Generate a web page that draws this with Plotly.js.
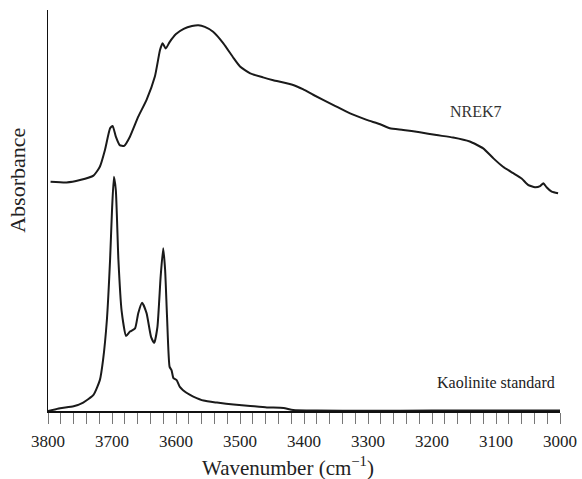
<!DOCTYPE html>
<html>
<head>
<meta charset="utf-8">
<script src="https://cdn.plot.ly/plotly-3.0.1.min.js"></script>
<style>html,body{margin:0;padding:0;background:#fff}#chart{width:582px;height:479px}</style>
</head>
<body>
<div id="chart"></div>
<script>
// Kaolinite standard spectrum (wavenumber, relative absorbance)
var kaolWn = [3800, 3781, 3760, 3745, 3729, 3719, 3714, 3708, 3703, 3700, 3697, 3694, 3690, 3685, 3678, 3672, 3664, 3659, 3653, 3646, 3639, 3634, 3629, 3624, 3620, 3617, 3614, 3610, 3607, 3604, 3599, 3594, 3589, 3578, 3573, 3557, 3536, 3510, 3484, 3458, 3432, 3417, 3380, 3300, 3200, 3100, 3000];
var kaolAbs = [0, 0.7, 1.2, 2.1, 4, 7.7, 12.7, 22.7, 37.7, 50, 58.4, 55, 37.7, 25, 18.7, 19.8, 20.6, 24.4, 27, 24.4, 18.5, 17, 21, 33.5, 40.6, 35.2, 23.5, 11, 10.2, 8.2, 7.7, 6, 5.2, 4, 3.6, 2.6, 2.1, 1.6, 1.25, 0.9, 0.75, 0.25, 0.1, 0.05, 0.1, 0.1, 0.1];

// NREK7 spectrum
var nrekWn = [3796, 3771, 3750, 3729, 3719, 3711, 3703, 3699, 3694, 3688, 3681, 3672, 3659, 3646, 3633, 3625, 3621, 3616, 3610, 3600, 3588, 3575, 3565, 3555, 3542, 3526, 3510, 3500, 3484, 3464, 3448, 3417, 3401, 3385, 3354, 3328, 3302, 3281, 3266, 3245, 3219, 3193, 3167, 3141, 3120, 3104, 3089, 3073, 3060, 3050, 3039, 3031, 3026, 3021, 3013, 3003];
var nrekAbs = [57.2, 57, 57.6, 58.7, 60.9, 65.1, 70.5, 71.1, 68.4, 66.3, 66.1, 68.4, 73.4, 77.6, 83.4, 90, 91.7, 90.4, 92, 94, 95.3, 96, 96.2, 95.8, 94.6, 91.7, 88, 85.9, 84.2, 83.2, 82.5, 81.3, 80.2, 78.8, 76.3, 74.2, 72.6, 71.5, 70.5, 70.1, 69.5, 68.8, 68.2, 67.2, 65.5, 63, 60.9, 59.3, 58, 56.4, 55.8, 56.1, 56.8, 55.8, 54.7, 54.3];

var tickVals = [3800, 3700, 3600, 3500, 3400, 3300, 3200, 3100, 3000];
var tickText = ["3800", "3700", "3600", "3500", "3400", "3300", "3200", "3100", "3000"];
var labels = ["NREK7", "Kaolinite standard"];
var xTitle = "Wavenumber (cm<sup>\u22121</sup>)";
var yTitle = "Absorbance";

var font = "Liberation Serif, Times New Roman, serif";
var lineStyle = {color: "#1a1a1a", width: 2, shape: "spline", smoothing: 0.5};

var traces = [
  {x: nrekWn, y: nrekAbs, mode: "lines", line: lineStyle, name: labels[0], hoverinfo: "x+y"},
  {x: kaolWn, y: kaolAbs, mode: "lines", line: lineStyle, name: labels[1], hoverinfo: "x+y"}
];

var layout = {
  width: 582, height: 479,
  margin: {l: 48, r: 22, t: 10, b: 68},
  paper_bgcolor: "#fff", plot_bgcolor: "#fff",
  showlegend: false,
  font: {family: font, color: "#222", size: 16},
  xaxis: {
    range: [3800, 3000],
    tickvals: tickVals, ticktext: tickText,
    ticks: "outside", ticklen: 11, tickwidth: 1, tickcolor: "#777",
    ticklabelstandoff: 3,
    minor: {dtick: 20, tick0: 3000, ticks: "outside", ticklen: 11, tickwidth: 1, tickcolor: "#777"},
    showline: true, linecolor: "#111", linewidth: 1.5,
    showgrid: false, zeroline: false,
    tickfont: {family: font, size: 17, color: "#222"}
  },
  yaxis: {
    range: [0, 100],
    showticklabels: false, ticks: "",
    showline: true, linecolor: "#111", linewidth: 1.5,
    showgrid: false, zeroline: false
  },
  annotations: [
    {x: 3131, y: 74.8, xref: "x", yref: "y", text: labels[0], showarrow: false, font: {family: font, size: 16, color: "#333"}},
    {x: 3100, y: 7, xref: "x", yref: "y", text: labels[1], showarrow: false, font: {family: font, size: 16, color: "#222"}},
    {x: 0.469, y: -0.138, xref: "paper", yref: "paper", xanchor: "center", yanchor: "middle", text: xTitle, showarrow: false, font: {family: font, size: 21, color: "#222"}},
    {x: -0.061, y: 0.576, xref: "paper", yref: "paper", xanchor: "center", yanchor: "middle", textangle: -90, text: yTitle, showarrow: false, font: {family: font, size: 22, color: "#222"}}
  ]
};

Plotly.newPlot("chart", traces, layout, {displayModeBar: false, staticPlot: true});
</script>
</body>
</html>
